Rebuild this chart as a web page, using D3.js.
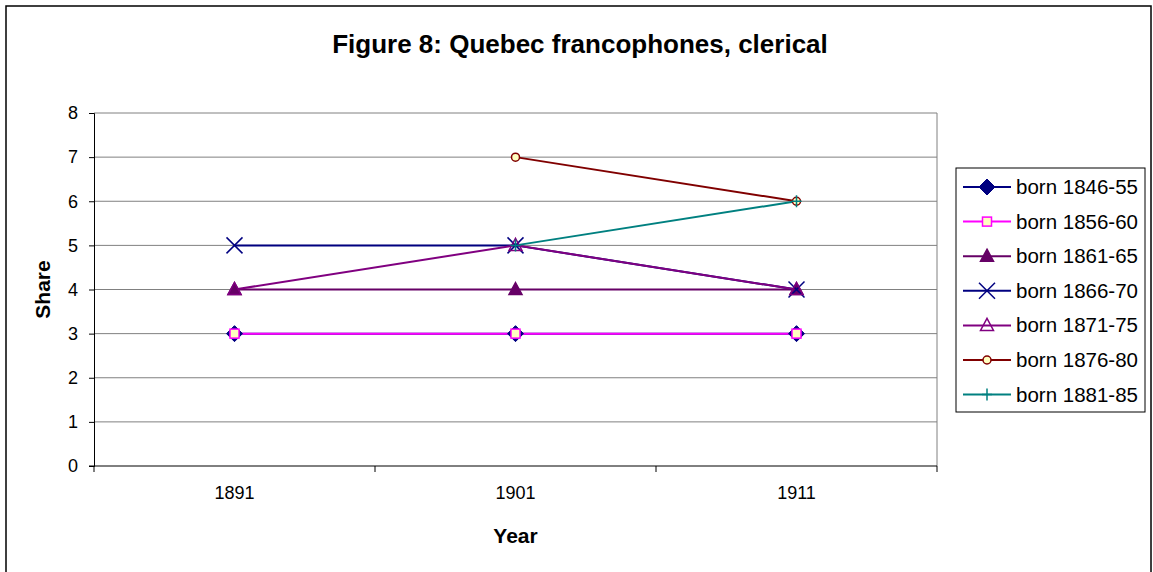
<!DOCTYPE html>
<html>
<head>
<meta charset="utf-8">
<script src="https://cdn.jsdelivr.net/npm/d3@7"></script>
<style>
  body { margin: 0; background: #fff; }
  text { font-family: "Liberation Sans", Arial, sans-serif; }
</style>
</head>
<body>
<script>
var years = ["1891", "1901", "1911"];
var seriesNames = ["born 1846-55", "born 1856-60", "born 1861-65", "born 1866-70", "born 1871-75", "born 1876-80", "born 1881-85"];
var born1846 = [3, 3, 3];
var born1856 = [3, 3, 3];
var born1861 = [4, 4, 4];
var born1866 = [5, 5, 4];
var born1871 = [4, 5, 4];
var born1876 = [null, 7, 6];
var born1881 = [null, 5, 6];
var yTicks = [0, 1, 2, 3, 4, 5, 6, 7, 8];

var series = [
  {name: seriesNames[0], values: born1846, color: "#000080", marker: "diamond", fill: "#000080"},
  {name: seriesNames[1], values: born1856, color: "#ff00ff", marker: "square", fill: "#ffffc0"},
  {name: seriesNames[2], values: born1861, color: "#660066", marker: "triangle", fill: "#660066"},
  {name: seriesNames[3], values: born1866, color: "#000080", marker: "x", fill: "none"},
  {name: seriesNames[4], values: born1871, color: "#800080", marker: "triangle", fill: "none"},
  {name: seriesNames[5], values: born1876, color: "#800000", marker: "circle", fill: "#ffffc0"},
  {name: seriesNames[6], values: born1881, color: "#008080", marker: "plus", fill: "none"}
];

var W = 1153, H = 572;
var plot = {left: 94, top: 113, right: 937, bottom: 466};

var svg = d3.select("body").append("svg")
    .attr("width", W)
    .attr("height", H);

// outer chart border
svg.append("rect")
    .attr("x", 6).attr("y", 6)
    .attr("width", 1145).attr("height", 580)
    .attr("fill", "#fff")
    .attr("stroke", "#000").attr("stroke-width", 1.5);

var x = d3.scaleBand().domain(years).range([plot.left, plot.right]);
var y = d3.scaleLinear().domain([0, 8]).range([plot.bottom, plot.top]);

// gridlines
svg.append("g")
    .selectAll("line")
    .data(yTicks.filter(function (d) { return d > 0; }))
    .enter()
    .append("line")
    .attr("x1", plot.left).attr("x2", plot.right)
    .attr("y1", function (d) { return y(d); })
    .attr("y2", function (d) { return y(d); })
    .attr("stroke", "#808080").attr("stroke-width", 1);

// right border of plot area
svg.append("line")
    .attr("x1", plot.right).attr("x2", plot.right)
    .attr("y1", plot.top).attr("y2", plot.bottom)
    .attr("stroke", "#808080");

// y axis
var yAxis = svg.append("g")
    .attr("transform", "translate(" + plot.left + ",0)")
    .call(d3.axisLeft(y).tickValues(yTicks).tickSize(5).tickPadding(11).tickFormat(d3.format("d")));
yAxis.select(".domain").attr("stroke", "#000");
yAxis.selectAll("text").style("font-size", "18px").attr("fill", "#000");

// x axis
var xAxis = svg.append("g")
    .attr("transform", "translate(0," + plot.bottom + ")")
    .call(d3.axisBottom(x).tickSize(0).tickPadding(20));
xAxis.select(".domain").remove();
xAxis.selectAll("text").style("font-size", "18px").attr("fill", "#000");
svg.append("line")
    .attr("x1", plot.left - 5).attr("x2", plot.right)
    .attr("y1", plot.bottom).attr("y2", plot.bottom)
    .attr("stroke", "#000");
var bounds = years.map(function (d) { return x(d); }).concat([plot.right]);
svg.append("g").selectAll("line")
    .data(bounds)
    .enter()
    .append("line")
    .attr("x1", function (d) { return d; }).attr("x2", function (d) { return d; })
    .attr("y1", plot.bottom).attr("y2", plot.bottom + 6)
    .attr("stroke", "#000");

// axis titles
svg.append("text")
    .attr("x", (plot.left + plot.right) / 2).attr("y", 543)
    .attr("text-anchor", "middle")
    .style("font-size", "21px").attr("font-weight", "bold")
    .text("Year");
svg.append("text")
    .attr("transform", "translate(50," + ((plot.top + plot.bottom) / 2) + ") rotate(-90)")
    .attr("text-anchor", "middle")
    .style("font-size", "21px").attr("font-weight", "bold")
    .text("Share");

// chart title
svg.append("text")
    .attr("x", 580).attr("y", 53)
    .attr("text-anchor", "middle")
    .style("font-size", "26px").attr("font-weight", "bold")
    .text("Figure 8: Quebec francophones, clerical");

function cx(i) { return x(years[i]) + x.bandwidth() / 2; }

function drawMarker(g, s, px, py) {
    if (s.marker === "diamond") {
        g.append("path").attr("d", "M" + px + "," + (py - 8) + "L" + (px + 8) + "," + py + "L" + px + "," + (py + 8) + "L" + (px - 8) + "," + py + "Z")
            .attr("fill", s.fill).attr("stroke", s.color);
    } else if (s.marker === "square") {
        g.append("rect").attr("x", px - 4.5).attr("y", py - 4.5)
            .attr("width", 9).attr("height", 9)
            .attr("fill", s.fill).attr("stroke", s.color).attr("stroke-width", 1.5);
    } else if (s.marker === "triangle") {
        g.append("path").attr("d", "M" + px + "," + (py - 7) + "L" + (px + 6.5) + "," + (py + 5) + "L" + (px - 6.5) + "," + (py + 5) + "Z")
            .attr("fill", s.fill).attr("stroke", s.color).attr("stroke-width", 1.5);
    } else if (s.marker === "x") {
        g.append("path").attr("d", "M" + (px - 8) + "," + (py - 8) + "L" + (px + 8) + "," + (py + 8) + "M" + (px + 8) + "," + (py - 8) + "L" + (px - 8) + "," + (py + 8))
            .attr("stroke", s.color).attr("stroke-width", 1.5).attr("fill", "none");
    } else if (s.marker === "circle") {
        g.append("circle").attr("cx", px).attr("cy", py).attr("r", 4)
            .attr("fill", s.fill).attr("stroke", s.color).attr("stroke-width", 1.5);
    } else if (s.marker === "plus") {
        g.append("path").attr("d", "M" + (px - 5) + "," + py + "L" + (px + 5) + "," + py + "M" + px + "," + (py - 6) + "L" + px + "," + (py + 6))
            .attr("stroke", s.color).attr("stroke-width", 1.5).attr("fill", "none");
    }
}

var line = d3.line()
    .defined(function (d) { return d != null; })
    .x(function (d, i) { return cx(i); })
    .y(function (d) { return y(d); });

// lines
series.forEach(function (s) {
    svg.append("path")
        .datum(s.values)
        .attr("d", line)
        .attr("fill", "none")
        .attr("stroke", s.color)
        .attr("stroke-width", 2);
});

// markers
series.forEach(function (s) {
    var g = svg.append("g");
    s.values.forEach(function (v, i) {
        if (v != null) drawMarker(g, s, cx(i), y(v));
    });
});

// legend
var lg = svg.append("g");
lg.append("rect")
    .attr("x", 956).attr("y", 168)
    .attr("width", 189).attr("height", 244)
    .attr("fill", "#fff").attr("stroke", "#000").attr("stroke-width", 1);
series.forEach(function (s, i) {
    var ly = 187 + i * 34.6;
    lg.append("line")
        .attr("x1", 963).attr("x2", 1011)
        .attr("y1", ly).attr("y2", ly)
        .attr("stroke", s.color).attr("stroke-width", 2);
    drawMarker(lg, s, 987, ly);
    lg.append("text")
        .attr("x", 1016).attr("y", ly + 7)
        .style("font-size", "20.5px")
        .text(s.name);
});
</script>
</body>
</html>
